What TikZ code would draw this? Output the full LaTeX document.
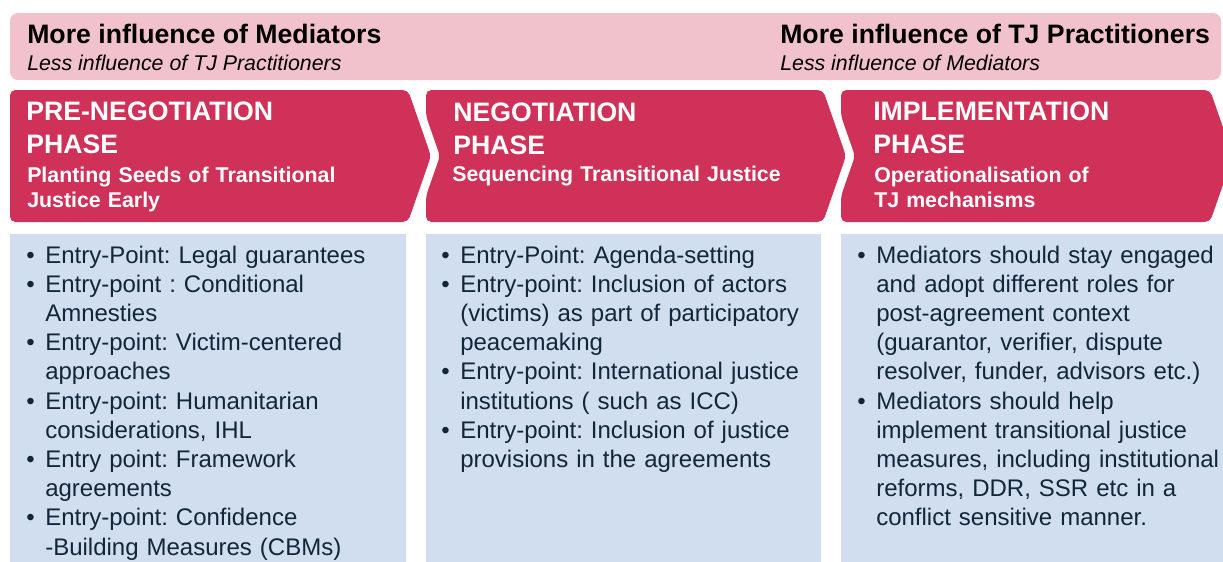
\documentclass[tikz,border=0pt]{standalone}
\usepackage{fontspec}
\setmainfont{Liberation Sans}
\frenchspacing

\definecolor{phasered}{RGB}{208,49,88}
\definecolor{barpink}{RGB}{241,193,204}
\definecolor{listblue}{RGB}{208,222,240}
\definecolor{listink}{RGB}{18,38,58}

% one bulleted entry with hanging indent
\newcommand{\entry}[1]{\hangindent=14.25pt\hangafter=1\noindent\makebox[14.25pt][l]{\textbullet}#1\par}

\begin{document}
\begin{tikzpicture}[
    x=0.75pt, y=-0.75pt,
    bar/.style={fill=barpink, rounded corners=6pt},
    phase/.style={fill=phasered, rounded corners=4pt},
    items/.style={fill=listblue},
    bartxt/.style={anchor=base west, inner sep=0pt, font=\fontsize{20}{24}\selectfont\bfseries},
    barsub/.style={anchor=base west, inner sep=0pt, font=\fontsize{16}{19}\selectfont\itshape},
    headtxt/.style={anchor=base west, inner sep=0pt, text=white, text width=300pt,
                    font=\fontsize{20}{24.75}\selectfont\bfseries, execute at begin node=\selectfont},
    subtxt/.style={anchor=base west, inner sep=0pt, text=white, text width=300pt,
                   font=\fontsize{16}{18.75}\selectfont\bfseries, execute at begin node=\selectfont},
    listtxt/.style={anchor=base west, inner sep=0pt, text=listink, text width=300pt,
                    font=\fontsize{18}{21.9}\selectfont, execute at begin node=\selectfont}
  ]
    \clip (0,0) rectangle (1223,561);

    % influence band
    \fill[bar] (10,13) rectangle (1221,80);
    \node[bartxt] (medmore) at (27,43) {More influence of Mediators};
    \node[barsub] (medless) at (27,70) {Less influence of TJ Practitioners};
    \node[bartxt] (tjmore) at (780,43) {More influence of TJ Practitioners};
    \node[barsub] (tjless) at (780,70) {Less influence of Mediators};

    % phase chevrons
    \fill[phase] (10,90) -- (408,90) -- (431,156) -- (408,222) -- (10,222) -- cycle;
    \fill[phase] (426,90) -- (823,90) -- (846,156) -- (823,222) -- (426,222)
                 -- (426,196) -- (440,156) -- (426,116) -- cycle;
    \fill[phase] (841,90) -- (1210,90) -- (1233,156) -- (1210,222) -- (841,222)
                 -- (841,196) -- (855,156) -- (841,116) -- cycle;

    \node[headtxt] (prehead) at (26,120) {PRE-NEGOTIATION\\PHASE};
    \node[subtxt] (presub) at (27,182) {Planting Seeds of Transitional\\Justice Early};
    \node[headtxt] (neghead) at (453,121) {NEGOTIATION\\PHASE};
    \node[subtxt] (negsub) at (452,181) {Sequencing Transitional Justice};
    \node[headtxt] (imphead) at (873,120) {IMPLEMENTATION\\PHASE};
    \node[subtxt] (impsub) at (874,182) {Operationalisation of\\TJ mechanisms};

    % entry-point lists
    \fill[items] (10,234) rectangle (406,570);
    \fill[items] (426,234) rectangle (821,570);
    \fill[items] (841,234) rectangle (1230,570);

    \node[listtxt] (prelist) at (26,263) {%
      \entry{Entry-Point: Legal guarantees}
      \entry{Entry-point : Conditional\newline Amnesties}
      \entry{Entry-point: Victim-centered\newline approaches}
      \entry{Entry-point: Humanitarian\newline considerations, IHL}
      \entry{Entry point: Framework\newline agreements}
      \entry{Entry-point: Confidence\newline -Building Measures (CBMs)}};
    \node[listtxt] (neglist) at (441,263) {%
      \entry{Entry-Point: Agenda-setting}
      \entry{Entry-point: Inclusion of actors\newline (victims) as part of participatory\newline peacemaking}
      \entry{Entry-point: International justice\newline institutions ( such as ICC)}
      \entry{Entry-point: Inclusion of justice\newline provisions in the agreements}};
    \node[listtxt] (implist) at (857,263) {%
      \entry{Mediators should stay engaged\newline and adopt different roles for\newline post-agreement context\newline (guarantor, verifier, dispute\newline resolver, funder, advisors etc.)}
      \entry{Mediators should help\newline implement transitional justice\newline measures, including institutional\newline reforms, DDR, SSR etc in a\newline conflict sensitive manner.}};
  \end{tikzpicture}
\end{document}
